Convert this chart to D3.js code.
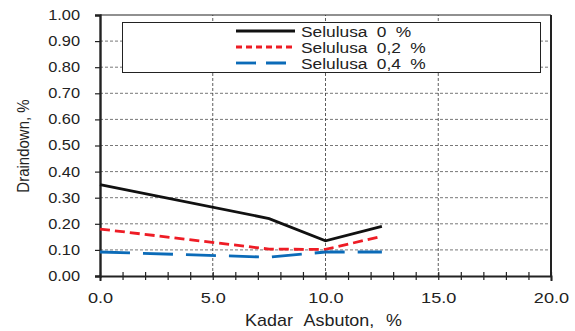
<!DOCTYPE html>
<html>
<head>
<meta charset="utf-8">
<script src="https://cdn.jsdelivr.net/npm/d3@7/dist/d3.min.js"></script>
<style>
  body { margin: 0; background: #fff; }
  text { font-family: "Liberation Sans", Arial, sans-serif; fill: #222; }
</style>
</head>
<body>
<svg id="chart" width="575" height="331"></svg>
<script>
// data
const kadarAsbuton = [0, 7.5, 10, 12.5];
const selulusa0 = [0.35, 0.22, 0.135, 0.19];
const selulusa02 = [0.18, 0.103, 0.102, 0.152];
const selulusa04 = [0.092, 0.072, 0.092, 0.092];
const seriesNames = ['Selulusa 0 %', 'Selulusa 0,2 %', 'Selulusa 0,4 %'];
const xTicks = [0, 5, 10, 15, 20];
const yTicks = [0, 0.1, 0.2, 0.3, 0.4, 0.5, 0.6, 0.7, 0.8, 0.9, 1.0];

const svg = d3.select('#chart');
const margin = {left: 100, right: 24, top: 15, bottom: 55};
const W = 575, H = 331;
const SX = 1.17; // tick labels are a bit wide in the reference

const x = d3.scaleLinear().domain([0, 20]).range([margin.left, W - margin.right]);
const y = d3.scaleLinear().domain([0, 1]).range([H - margin.bottom, margin.top]);

const styles = [
  {color: '#111', width: 2.8, dash: null, legDash: null},
  {color: '#ee1c25', width: 2.8, dash: '10,5', legDash: '6,4'},
  {color: '#0b6bb8', width: 2.8, dash: '30,13', legDash: '20,10'}
];
const series = [selulusa0, selulusa02, selulusa04];

// grid
svg.append('g').selectAll('line').data(yTicks.slice(1, -1)).join('line')
  .attr('x1', x(0)).attr('x2', x(20))
  .attr('y1', d => y(d)).attr('y2', d => y(d))
  .attr('stroke', '#555').attr('stroke-width', 0.8).attr('stroke-dasharray', '3,2');
svg.append('g').selectAll('line').data(xTicks.slice(1, -1)).join('line')
  .attr('x1', d => x(d)).attr('x2', d => x(d))
  .attr('y1', y(0)).attr('y2', y(1))
  .attr('stroke', '#333').attr('stroke-width', 0.8).attr('stroke-dasharray', '3,2');

// frame: top and right
svg.append('line').attr('x1', x(0)).attr('x2', x(20)).attr('y1', y(1)).attr('y2', y(1))
  .attr('stroke', '#222').attr('stroke-width', 1.2);
svg.append('line').attr('x1', x(20)).attr('x2', x(20)).attr('y1', y(0)).attr('y2', y(1))
  .attr('stroke', '#222').attr('stroke-width', 2);

// axes
const xAxis = svg.append('g').attr('transform', `translate(0,${y(0)})`)
  .call(d3.axisBottom(x).tickValues(d3.range(0, 21, 1)).tickSize(5)
    .tickFormat(d => xTicks.includes(d) ? d3.format('.1f')(d) : ''));
xAxis.select('.domain').attr('stroke-width', 2).attr('stroke', '#222');
xAxis.selectAll('.tick line').attr('y1', -4).attr('y2', 4).attr('stroke-width', 1.2).attr('stroke', '#222');
xAxis.selectAll('.tick text').attr('dy', 0).attr('y', 0)
  .attr('transform', `translate(0,27) scale(1.25,1)`).style('font-size', '14.5px');

const yAxis = svg.append('g').attr('transform', `translate(${x(0)},0)`)
  .call(d3.axisLeft(y).tickValues(yTicks).tickSize(5).tickFormat(d3.format('.2f')));
yAxis.select('.domain').attr('stroke-width', 2.4).attr('stroke', '#222');
yAxis.selectAll('.tick line').attr('stroke-width', 1.2).attr('stroke', '#222');
yAxis.selectAll('.tick text').attr('x', 0)
  .attr('transform', `translate(-20,0) scale(${SX},1)`).style('font-size', '14px');

// series
const line = d3.line().x((d, i) => x(kadarAsbuton[i])).y(d => y(d));
series.forEach((s, i) => {
  svg.append('path').datum(s)
    .attr('d', line)
    .attr('fill', 'none')
    .attr('stroke', styles[i].color)
    .attr('stroke-width', styles[i].width)
    .attr('stroke-dasharray', styles[i].dash);
});

// legend
const lg = svg.append('g');
lg.append('rect').attr('x', 122.5).attr('y', 22.5).attr('width', 418).attr('height', 50)
  .attr('fill', '#fff').attr('stroke', '#222').attr('stroke-width', 1);
seriesNames.forEach((n, i) => {
  const ly = 31 + i * 16;
  lg.append('line').attr('x1', 236).attr('x2', 295).attr('y1', ly).attr('y2', ly)
    .attr('stroke', styles[i].color).attr('stroke-width', styles[i].width)
    .attr('stroke-dasharray', styles[i].legDash);
  lg.append('text').attr('transform', `translate(301,${ly + 5.5}) scale(1.12,1)`).text(n)
    .style('font-size', '15.5px').style('word-spacing', '4px');
});

// axis titles
svg.append('text').attr('transform', `translate(${x(10) - 2},326) scale(1.12,1)`)
  .attr('text-anchor', 'middle').style('font-size', '16px').style('word-spacing', '6px')
  .text('Kadar Asbuton, %');
svg.append('text').attr('transform', `translate(29,146) scale(1.15,1) rotate(-90)`)
  .attr('text-anchor', 'middle').style('font-size', '15px').text('Draindown, %');
</script>
</body>
</html>
